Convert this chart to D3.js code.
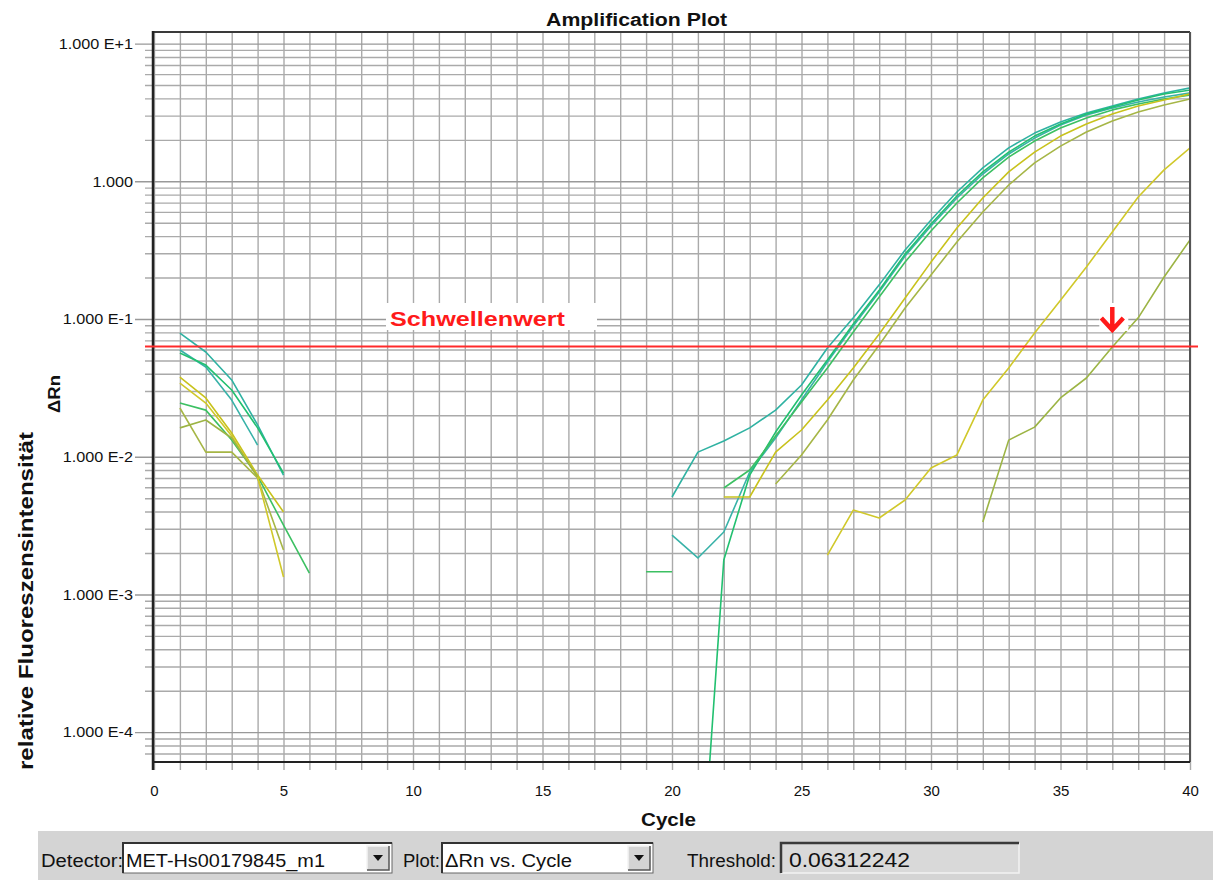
<!DOCTYPE html>
<html>
<head>
<meta charset="utf-8">
<script src="https://cdn.jsdelivr.net/npm/d3@7"></script>
<style>
  html, body { margin: 0; padding: 0; background: #fff; }
  svg { display: block; font-family: Arial, "Liberation Sans", sans-serif; }
</style>
</head>
<body>
<svg id="chart" width="1213" height="881"></svg>
<script>
// ---- data: ΔRn per cycle for each well (null = not plotted) ----
const cycles = d3.range(1, 41);
const threshold = 0.06312242;
const detectorName = "MET-Hs00179845_m1";
const plotMode = "ΔRn vs. Cycle";
const yTickValues = [1e-4, 1e-3, 1e-2, 1e-1, 1, 10];
const xTickValues = [0, 5, 10, 15, 20, 25, 30, 35, 40];

// each well: [startCycle, values...] segments
const wellA_early = [0.0791, 0.0576, 0.0361, 0.0170, 0.00736];                     // cycles 1–5
const wellA_late  = [0.0051, 0.0108, 0.013, 0.0162, 0.0218, 0.0332, 0.0616, 0.102, 0.177,
                     0.317, 0.524, 0.836, 1.25, 1.75, 2.24, 2.70, 3.13, 3.52, 3.96, 4.38, 4.76]; // 20–40
const wellB_early = [0.0596, 0.0448, 0.0258, 0.01216];                             // 1–4
const wellB_late  = [0.0027, 0.00184, 0.00284, 0.00774, 0.01367, 0.0258, 0.0487, 0.089, 0.157,
                     0.287, 0.474, 0.756, 1.13, 1.58, 2.06, 2.56, 3.03, 3.41, 3.77, 4.10, 4.38]; // 20–40
const wellC_early = [0.0566, 0.0463, 0.0305, 0.0162, 0.00761];                     // 1–5
const wellC_late  = [0.0000036, 0.00178, 0.00736, 0.0151, 0.0281, 0.0504, 0.092, 0.162, 0.296,
                     0.490, 0.782, 1.17, 1.63, 2.13, 2.61, 3.08, 3.47, 3.89, 4.31, 4.60];        // 21–40
const wellD_early = [0.02455, 0.0218, 0.01322, 0.00724, 0.00319, 0.00143];          // 1–6
const wellD_mid   = [0.00146, 0.00146];                                            // 19–20
const wellD_late  = [0.00593, 0.00801, 0.01413, 0.02496, 0.0441, 0.0804, 0.1445, 0.259, 0.436,
                     0.696, 1.06, 1.50, 1.96, 2.44, 2.88, 3.30, 3.64, 3.96, 4.23];               // 22–40
const wellE_early = [0.0379, 0.0267, 0.01486, 0.00736, 0.00397];                   // 1–5
const wellE_late  = [0.0051, 0.0051, 0.0108, 0.01563, 0.0258, 0.0441, 0.0778, 0.142, 0.259,
                     0.458, 0.756, 1.17, 1.63, 2.13, 2.61, 3.08, 3.52, 3.89, 4.31];              // 22–40
const wellF_early = [0.02258, 0.0108, 0.0108, 0.0070, 0.0021];                     // 1–5
const wellF_late  = [0.00633, 0.01029, 0.01847, 0.0361, 0.0647, 0.1202, 0.2087, 0.3624, 0.598,
                     0.940, 1.36, 1.80, 2.28, 2.74, 3.19, 3.58, 3.96];                           // 24–40
const wellG_early = [0.0343, 0.02455, 0.01413, 0.00712, 0.00134];                  // 1–5
const wellG_late  = [0.00193, 0.0041, 0.00359, 0.00485, 0.00828, 0.0103, 0.0258, 0.0441, 0.0791,
                     0.137, 0.239, 0.428, 0.769, 1.21, 1.75];                                    // 26–40
const wellH_early = [0.0162, 0.01847, 0.01367, 0.00712];                           // 1–4
const wellH_late  = [0.00336, 0.0132, 0.0164, 0.0267, 0.0373, 0.0627, 0.102, 0.202, 0.375]; // 32–40

const wells = [
  { name: "A", color: "#2fb2a2", segs: [[1, wellA_early], [20, wellA_late]] },
  { name: "B", color: "#38b2a8", segs: [[1, wellB_early], [20, wellB_late]] },
  { name: "C", color: "#22c070", segs: [[1, wellC_early], [21, wellC_late]] },
  { name: "D", color: "#3cc062", segs: [[1, wellD_early], [19, wellD_mid], [22, wellD_late]] },
  { name: "E", color: "#c8c21c", segs: [[1, wellE_early], [22, wellE_late]] },
  { name: "F", color: "#a6b646", segs: [[1, wellF_early], [24, wellF_late]] },
  { name: "G", color: "#d0c82a", segs: [[1, wellG_early], [26, wellG_late]] },
  { name: "H", color: "#9cb444", segs: [[1, wellH_early], [32, wellH_late]] }
];

function toSeries(segs) {
  const vals = cycles.map(() => null);
  segs.forEach(([start, arr]) => arr.forEach((v, i) => { vals[start - 1 + i] = v; }));
  return cycles.map((c, i) => ({ cycle: c, value: vals[i] }));
}

// ---- layout ----
const svg = d3.select("#chart");
const frame = { left: 153, right: 1190, top: 32, bottom: 762 };
const x = d3.scaleLinear().domain([0, 40]).range([154, 1190]);
const y = d3.scaleLog().domain([6.07e-5, 12.14]).range([frame.bottom, frame.top]);

const gridColor = "#aaaaaa";

// vertical grid (one line per cycle, reaching below the axis as ticks)
svg.append("g")
  .attr("transform", `translate(0,${frame.bottom + 8})`)
  .call(d3.axisBottom(x).tickValues(d3.range(0, 41)).tickSize(-(frame.bottom + 8 - frame.top)).tickFormat(""))
  .call(g => g.select(".domain").remove())
  .call(g => g.selectAll("line").attr("stroke", gridColor).attr("stroke-width", 1.4));

// horizontal log grid: minor lines and decade lines
const minorVals = [], majorVals = [];
for (let e = -5; e <= 1; e++) {
  for (let k = 1; k <= 9; k++) {
    const v = k * Math.pow(10, e);
    if (v >= y.domain()[0] && v <= y.domain()[1]) (k === 1 ? majorVals : minorVals).push(v);
  }
}
svg.append("g")
  .attr("transform", "translate(145,0)")
  .call(d3.axisRight(y).tickValues(minorVals).tickSize(frame.right - 145).tickFormat(""))
  .call(g => g.select(".domain").remove())
  .call(g => g.selectAll("line").attr("stroke", gridColor).attr("stroke-width", 1.4));
svg.append("g")
  .attr("transform", "translate(135,0)")
  .call(d3.axisRight(y).tickValues(majorVals).tickSize(frame.right - 135).tickFormat(""))
  .call(g => g.select(".domain").remove())
  .call(g => g.selectAll("line").attr("stroke", "#999").attr("stroke-width", 1.4));

// y tick labels
const yFmt = v => {
  const e = Math.round(Math.log10(v));
  return e === 0 ? "1.000" : "1.000 E" + (e > 0 ? "+" : "") + e;
};
svg.append("g")
  .attr("transform", `translate(${frame.left},0)`)
  .call(d3.axisLeft(y).tickValues(yTickValues).tickSize(0).tickPadding(20).tickFormat(yFmt))
  .call(g => g.select(".domain").remove())
  .call(g => g.selectAll("text")
    .attr("font-size", 15).attr("fill", "#111")
    .attr("font-family", "Arial, 'Liberation Sans', sans-serif")
    .attr("x", -20 / 1.08).attr("transform", "scale(1.08,1)"));

// x tick labels
svg.append("g")
  .attr("transform", `translate(0,${frame.bottom})`)
  .call(d3.axisBottom(x).tickValues(xTickValues).tickSize(0).tickPadding(23).tickFormat(d3.format("d")))
  .call(g => g.select(".domain").remove())
  .call(g => g.selectAll("text")
    .attr("font-size", 15).attr("fill", "#111")
    .attr("font-family", "Arial, 'Liberation Sans', sans-serif"));

// frame
svg.append("line").attr("x1", frame.left).attr("x2", frame.right).attr("y1", frame.top).attr("y2", frame.top)
  .attr("stroke", "#3a3a3a").attr("stroke-width", 2);
svg.append("line").attr("x1", frame.right).attr("x2", frame.right).attr("y1", frame.top).attr("y2", frame.bottom)
  .attr("stroke", "#555").attr("stroke-width", 2);
svg.append("line").attr("x1", frame.left - 1).attr("x2", frame.right).attr("y1", frame.bottom).attr("y2", frame.bottom)
  .attr("stroke", "#222").attr("stroke-width", 2);
svg.append("line").attr("x1", frame.left).attr("x2", frame.left).attr("y1", frame.top - 1).attr("y2", frame.bottom + 8)
  .attr("stroke", "#222").attr("stroke-width", 2.5);

// amplification curves
svg.append("clipPath").attr("id", "plotClip")
  .append("rect").attr("x", frame.left + 1).attr("y", frame.top + 1)
  .attr("width", frame.right - frame.left - 2).attr("height", frame.bottom - frame.top - 2);

const line = d3.line()
  .defined(d => d.value != null && d.value > 0)
  .x(d => x(d.cycle))
  .y(d => y(d.value));

svg.append("g").attr("clip-path", "url(#plotClip)")
  .selectAll("path")
  .data(wells)
  .join("path")
  .attr("d", w => line(toSeries(w.segs)))
  .attr("fill", "none")
  .attr("stroke", w => w.color)
  .attr("stroke-width", 1.6)
  .attr("stroke-linejoin", "round");

// threshold
const ty = y(threshold);
svg.append("line").attr("x1", 145).attr("x2", 1198).attr("y1", ty).attr("y2", ty)
  .attr("stroke", "#ff2a2a").attr("stroke-width", 2);

// threshold annotation
svg.append("rect").attr("x", 386).attr("y", 303).attr("width", 211).attr("height", 27).attr("fill", "#fff");
svg.append("text").attr("x", 390).attr("y", 326)
  .attr("font-size", 20).attr("font-weight", "bold").attr("fill", "#ff1a1a")
  .attr("textLength", 175).attr("lengthAdjust", "spacingAndGlyphs")
  .text("Schwellenwert");

// arrow marking the crossing of the latest well
const ax = x(37);
svg.append("rect").attr("x", ax - 13).attr("y", 303).attr("width", 29).attr("height", 28).attr("fill", "#fff");
svg.append("path")
  .attr("d", `M${ax},307 V329 M${ax - 11},318 L${ax},330 L${ax + 11},318`)
  .attr("fill", "none").attr("stroke", "#ff1a1a").attr("stroke-width", 4.5).attr("stroke-linejoin", "miter");

// titles
svg.append("text").attr("x", 636.5).attr("y", 26).attr("text-anchor", "middle")
  .attr("font-size", 18).attr("font-weight", "bold").attr("fill", "#111")
  .attr("textLength", 181).attr("lengthAdjust", "spacingAndGlyphs")
  .text("Amplification Plot");
svg.append("text").attr("x", 668.5).attr("y", 826).attr("text-anchor", "middle")
  .attr("font-size", 18).attr("font-weight", "bold").attr("fill", "#111")
  .attr("textLength", 55).attr("lengthAdjust", "spacingAndGlyphs")
  .text("Cycle");
svg.append("text").attr("transform", "translate(60,394) rotate(-90)").attr("text-anchor", "middle")
  .attr("font-size", 17).attr("font-weight", "bold").attr("fill", "#111")
  .attr("textLength", 38).attr("lengthAdjust", "spacingAndGlyphs")
  .text("ΔRn");
svg.append("text").attr("transform", "translate(33,601) rotate(-90)").attr("text-anchor", "middle")
  .attr("font-size", 21).attr("font-weight", "bold").attr("fill", "#111")
  .attr("textLength", 338).attr("lengthAdjust", "spacingAndGlyphs")
  .text("relative Fluoreszensintensität");

// ---- control strip below the chart ----
const panel = svg.append("g");
panel.append("rect").attr("x", 38).attr("y", 831).attr("width", 1175).attr("height", 49).attr("fill", "#d4d4d4");

function label(xp, txt, len, size) {
  panel.append("text").attr("x", xp).attr("y", 867).attr("font-size", size || 18).attr("fill", "#111")
    .attr("textLength", len).attr("lengthAdjust", "spacingAndGlyphs").text(txt);
}
function combo(x0, x1, txt, len) {
  panel.append("rect").attr("x", x0).attr("y", 843).attr("width", x1 - x0).attr("height", 30)
    .attr("fill", "#fff").attr("stroke", "#666").attr("stroke-width", 1);
  panel.append("path").attr("d", `M${x0},873 V843 H${x1}`).attr("fill", "none").attr("stroke", "#333").attr("stroke-width", 2);
  const bx = x1 - 25;
  panel.append("rect").attr("x", bx).attr("y", 846).attr("width", 22).attr("height", 24).attr("fill", "#d4d4d4");
  panel.append("path").attr("d", `M${bx},870 V846 H${bx + 22}`).attr("fill", "none").attr("stroke", "#f4f4f4").attr("stroke-width", 1.5);
  panel.append("path").attr("d", `M${bx},870 H${bx + 22} V846`).attr("fill", "none").attr("stroke", "#555").attr("stroke-width", 1.5);
  const cx = bx + 11;
  panel.append("path").attr("d", `M${cx - 5},855 H${cx + 5} L${cx},861 Z`).attr("fill", "#111");
  panel.append("text").attr("x", x0 + 3).attr("y", 867).attr("font-size", 18).attr("fill", "#111")
    .attr("textLength", len).attr("lengthAdjust", "spacingAndGlyphs").text(txt);
}
label(41, "Detector:", 82);
combo(123, 392, detectorName, 199);
label(403, "Plot:", 37);
combo(442, 653, plotMode, 127);
label(687, "Threshold:", 89);
panel.append("rect").attr("x", 781).attr("y", 843).attr("width", 238).attr("height", 30).attr("fill", "#d9d9d9");
panel.append("path").attr("d", "M781,873 H1019 V843").attr("fill", "none").attr("stroke", "#f2f2f2").attr("stroke-width", 1.5);
panel.append("path").attr("d", "M781,873 V843 H1019").attr("fill", "none").attr("stroke", "#3a3a3a").attr("stroke-width", 2.5);
label(789, String(threshold), 121, 20);
</script>
</body>
</html>
